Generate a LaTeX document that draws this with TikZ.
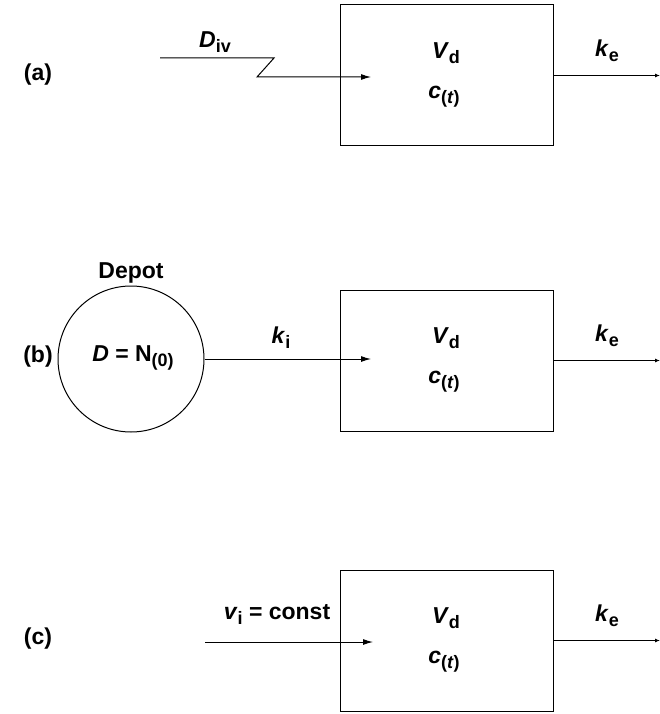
\documentclass[tikz,border=0pt]{standalone}
\usepackage{fontspec}
\setmainfont{Liberation Sans}
\usetikzlibrary{arrows.meta}
% subscript set smaller and lowered
\newcommand{\lowsub}[1]{\raisebox{-5pt}{\fontsize{18}{18}\selectfont #1}}
\begin{document}
\begin{tikzpicture}[x=1pt,y=-1pt,
  lbl/.style={font=\fontsize{23}{26}\selectfont\bfseries, inner sep=0pt},
  compart/.style={draw, line width=1pt, minimum width=213pt, minimum height=141pt, inner sep=0pt},
  depotc/.style={draw, circle, line width=1pt, minimum size=146pt, inner sep=0pt},
  flow/.style={line width=1pt, -{Latex[length=10pt,width=6pt]}},
  outflow/.style={line width=1pt, -{Latex[length=5pt,width=4pt]}}]
\useasboundingbox (0,0) rectangle (660,714);

% ---------- (a) intravenous bolus ----------
\node[compart] (boxA) at (446.5,75.5) {};
\node[lbl] (labA) at (38,75) {(a)};
\node[lbl] (VdA) at (446,53) {\textit{V}\lowsub{d}};
\node[lbl] (ctA) at (444,97) {\textit{c}\lowsub{(\textit{t})}};
\node[lbl] (DivA) at (215,42) {\textit{D}\lowsub{iv}};
\node[lbl] (keA) at (607,51) {\textit{k}\lowsub{e}};
\coordinate (inA0) at (160,58);
\coordinate (inA1) at (274,58);
\coordinate (inA2) at (257,77);
\coordinate (inA3) at (371,77);
\coordinate (outA) at (660,75.5);
\draw[flow] (inA0) -- (inA1) -- (inA2) -- (inA3);
\draw[outflow] (boxA.east) -- (outA);

% ---------- (b) depot absorption ----------
\node[compart] (boxB) at (446.5,360.5) {};
\node[depotc] (depot) at (131,359) {};
\node[lbl] (labB) at (38,357) {(b)};
\node[lbl] (depotT) at (131,273) {Depot};
\node[lbl] (DN) at (133,358) {\textit{D} = N\lowsub{(0)}};
\node[lbl] (VdB) at (446,338) {\textit{V}\lowsub{d}};
\node[lbl] (ctB) at (444,382) {\textit{c}\lowsub{(\textit{t})}};
\node[lbl] (kiB) at (281,338) {\textit{k}\lowsub{i}};
\node[lbl] (keB) at (607,336) {\textit{k}\lowsub{e}};
\coordinate (inB) at (371,359);
\coordinate (outB) at (660,360.5);
\draw[flow] (depot.east) -- (inB);
\draw[outflow] (boxB.east) -- (outB);

% ---------- (c) constant-rate infusion ----------
\node[compart] (boxC) at (446.5,640.5) {};
\node[lbl] (labC) at (38,639) {(c)};
\node[lbl] (VdC) at (446,618) {\textit{V}\lowsub{d}};
\node[lbl] (ctC) at (444,662) {\textit{c}\lowsub{(\textit{t})}};
\node[lbl] (viC) at (277,614) {\textit{v}\lowsub{i} = const};
\node[lbl] (keC) at (607,616) {\textit{k}\lowsub{e}};
\coordinate (inC0) at (205,642);
\coordinate (inC) at (373,642);
\coordinate (outC) at (660,640.5);
\draw[flow] (inC0) -- (inC);
\draw[outflow] (boxC.east) -- (outC);
\end{tikzpicture}
\end{document}
